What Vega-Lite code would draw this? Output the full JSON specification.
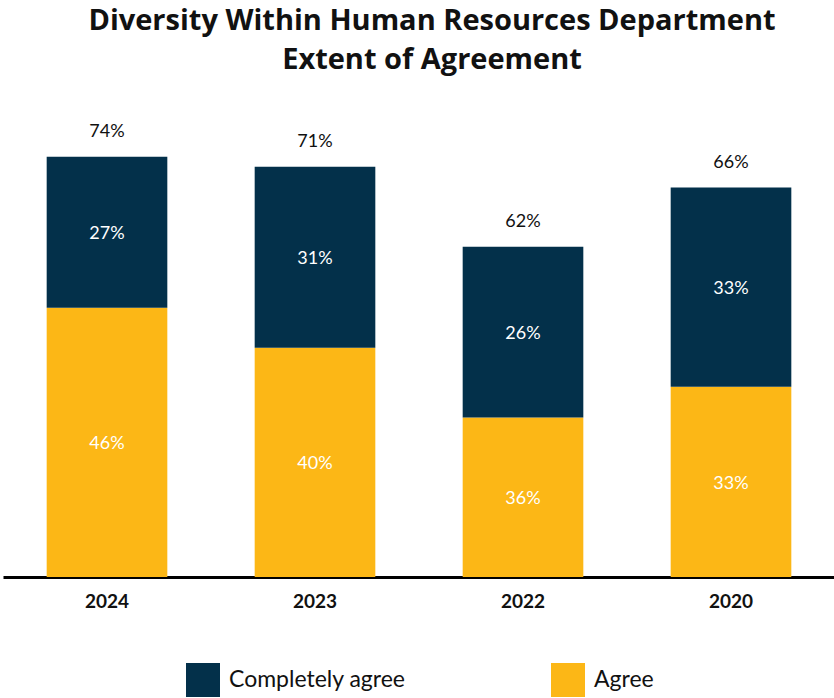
{
  "$schema": "https://vega.github.io/schema/vega-lite/v6.json",
  "width": 832,
  "height": 477,
  "autosize": {"type": "none"},
  "padding": {"left": 3, "top": 100, "right": 0, "bottom": 121},
  "background": "white",
  "title": {
    "text": ["Diversity Within Human Resources Department", "Extent of Agreement"],
    "fontSize": 29,
    "fontWeight": "bold",
    "font": "Open Sans",
    "color": "#111111",
    "lineHeight": 39,
    "anchor": "middle",
    "frame": "group",
    "dx": 13,
    "offset": 25
  },
  "config": {
    "view": {"stroke": null},
    "font": "Lato"
  },
  "data": {
    "values": [
      {"year": "2024", "series": "Agree", "value": 46.4, "label": "46%", "total": "74%"},
      {"year": "2024", "series": "Completely agree", "value": 26.0, "label": "27%", "total": "74%"},
      {"year": "2023", "series": "Agree", "value": 39.5, "label": "40%", "total": "71%"},
      {"year": "2023", "series": "Completely agree", "value": 31.2, "label": "31%", "total": "71%"},
      {"year": "2022", "series": "Agree", "value": 27.5, "label": "36%", "total": "62%"},
      {"year": "2022", "series": "Completely agree", "value": 29.4, "label": "26%", "total": "62%"},
      {"year": "2020", "series": "Agree", "value": 32.8, "label": "33%", "total": "66%"},
      {"year": "2020", "series": "Completely agree", "value": 34.3, "label": "33%", "total": "66%"}
    ]
  },
  "encoding": {
    "x": {
      "field": "year",
      "type": "nominal",
      "sort": ["2024", "2023", "2022", "2020"],
      "scale": {"paddingInner": 0.42, "paddingOuter": 0.21},
      "axis": {
        "title": null,
        "ticks": false,
        "domainColor": "#000000",
        "domainWidth": 3,
        "labelAngle": 0,
        "labelFont": "Lato",
        "labelFontWeight": "bold",
        "labelFontSize": 19,
        "labelColor": "#111111",
        "labelPadding": 15
      }
    }
  },
  "layer": [
    {
      "mark": {"type": "bar"},
      "encoding": {
        "y": {
          "field": "value",
          "type": "quantitative",
          "aggregate": "sum",
          "stack": "zero",
          "scale": {"domain": [0, 82.2], "nice": false, "zero": true},
          "axis": null
        },
        "color": {
          "field": "series",
          "type": "nominal",
          "scale": {"domain": ["Completely agree", "Agree"], "range": ["#03304A", "#FCB716"]},
          "legend": {
            "title": null,
            "orient": "none",
            "direction": "horizontal",
            "legendX": 183,
            "legendY": 563,
            "symbolType": "square",
            "symbolSize": 1156,
            "symbolStrokeWidth": 0,
            "symbolOpacity": 1,
            "labelFont": "Lato",
            "labelFontSize": 23,
            "labelLimit": 400,
            "labelColor": "#111111",
            "labelOffset": 9,
            "columnPadding": 145,
            "gridAlign": "none",
            "padding": 0
          }
        },
        "order": {"field": "series", "sort": "ascending"}
      }
    },
    {
      "transform": [
        {"stack": "value", "groupby": ["year"], "sort": [{"field": "series", "order": "ascending"}], "as": ["v0", "v1"]},
        {"calculate": "(datum.v0 + datum.v1) / 2", "as": "mid"}
      ],
      "mark": {"type": "text", "color": "white", "fontSize": 18, "font": "Lato", "baseline": "middle", "dy": 2},
      "encoding": {
        "y": {"field": "mid", "type": "quantitative"},
        "text": {"field": "label"}
      }
    },
    {
      "transform": [
        {"aggregate": [{"op": "sum", "field": "value", "as": "sum"}], "groupby": ["year", "total"]}
      ],
      "mark": {"type": "text", "color": "#111111", "fontSize": 18, "font": "Lato", "baseline": "middle", "dy": -25},
      "encoding": {
        "y": {"field": "sum", "type": "quantitative"},
        "text": {"field": "total"}
      }
    }
  ]
}
